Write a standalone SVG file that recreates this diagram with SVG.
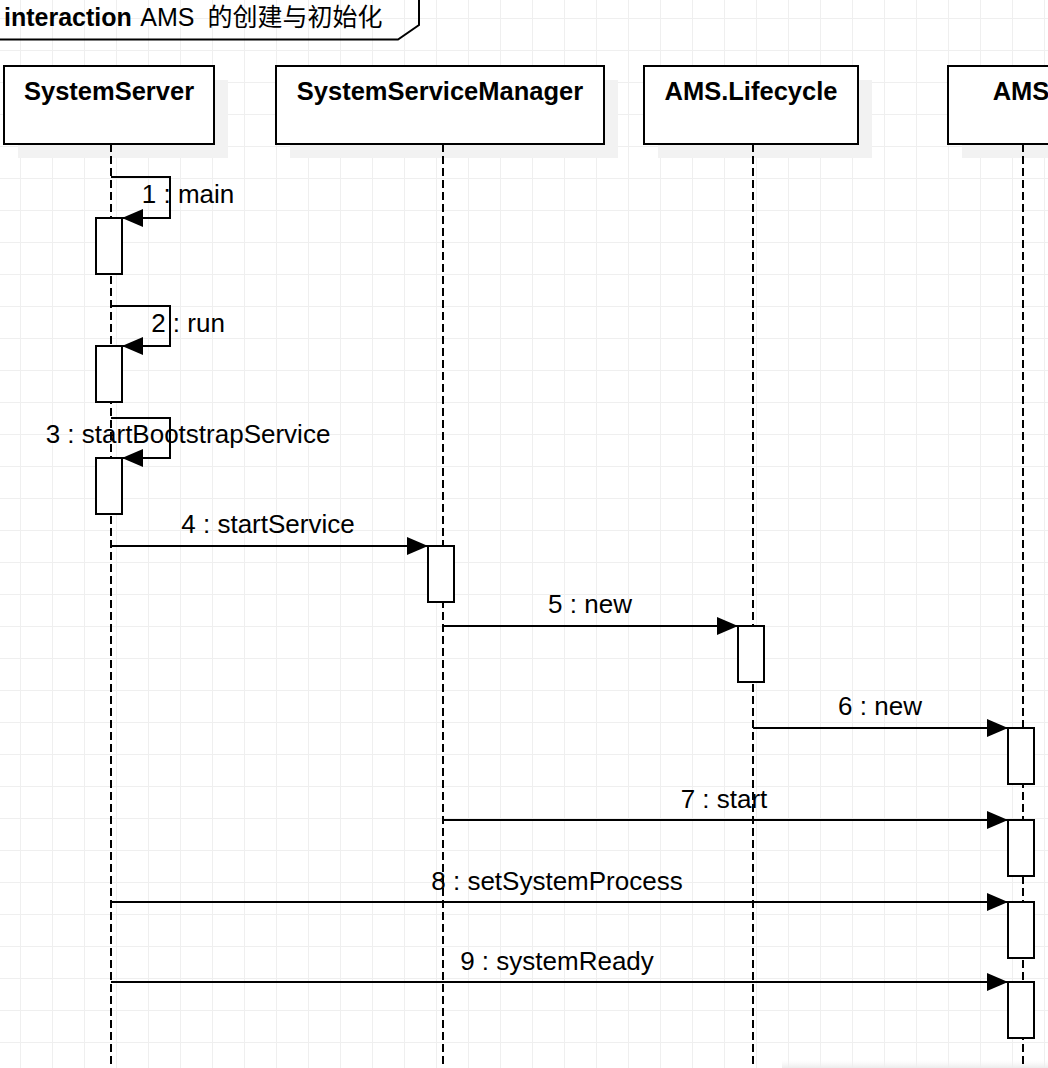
<svg xmlns="http://www.w3.org/2000/svg" width="1048" height="1068" viewBox="0 0 1048 1068">
<style>
.hdr{fill:#fff;stroke:#000;stroke-width:2}
.shadow{fill:#f2f2f2;stroke:none}
.hname{font-family:"Liberation Sans",Arial,sans-serif;font-weight:bold;font-size:25.5px;text-anchor:middle;fill:#000}
.life{stroke:#000;stroke-width:2;stroke-dasharray:8 4;fill:none}
.act{fill:#fff;stroke:#000;stroke-width:2}
.msg{stroke:#000;stroke-width:2;fill:none;marker-end:url(#arr)}
.lbl{font-family:"Liberation Sans",Arial,sans-serif;font-size:26px;text-anchor:middle;fill:#000}
.title{font-family:"Liberation Sans",Arial,"Noto Sans CJK SC",sans-serif;font-size:25px;fill:#000}
</style>
<defs>
<pattern id="grid" patternUnits="userSpaceOnUse" x="20" y="18" width="32" height="32">
<path d="M0 0.5H32M0.5 0V32" stroke="#efefef" stroke-width="1" fill="none"/>
</pattern>
<marker id="arr" markerUnits="userSpaceOnUse" markerWidth="21" markerHeight="18" refX="21" refY="9" orient="auto">
<path d="M0,0 L21,9 L0,18 z" fill="#000"/>
</marker>
<linearGradient id="bsh" x1="0" y1="0" x2="0" y2="1">
<stop offset="0" stop-color="#f6f6f6" stop-opacity="0"/>
<stop offset="1" stop-color="#ececec"/>
</linearGradient>
</defs>
<rect width="1048" height="1068" fill="#fff"/>
<rect width="1048" height="1068" fill="url(#grid)"/>
<rect x="782" y="1060" width="266" height="8" fill="url(#bsh)"/>

<g id="title">
<path d="M0,39.5 H398 L419,25 V0" fill="none" stroke="#000" stroke-width="2"/>
<text class="title" x="4" y="26"><tspan font-weight="bold">interaction</tspan><tspan dx="3"> AMS</tspan><tspan dx="6"> 的创建与初始化</tspan></text>
</g>

<g id="SystemServer">
<rect class="shadow" x="18" y="80" width="210" height="78"/>
<rect class="hdr" x="4" y="66" width="210" height="78"/>
<text class="hname" x="109" y="100">SystemServer</text>
<line class="life" x1="111" y1="144" x2="111" y2="1068"/>
</g>
<g id="SystemServiceManager">
<rect class="shadow" x="290" y="80" width="328" height="78"/>
<rect class="hdr" x="276" y="66" width="328" height="78"/>
<text class="hname" x="440" y="100">SystemServiceManager</text>
<line class="life" x1="443" y1="144" x2="443" y2="1068"/>
</g>
<g id="AMS.Lifecycle">
<rect class="shadow" x="658" y="80" width="214" height="78"/>
<rect class="hdr" x="644" y="66" width="214" height="78"/>
<text class="hname" x="751" y="100">AMS.Lifecycle</text>
<line class="life" x1="753" y1="144" x2="753" y2="1068"/>
</g>
<g id="AMS">
<rect class="shadow" x="962" y="80" width="146" height="78"/>
<rect class="hdr" x="948" y="66" width="146" height="78"/>
<text class="hname" x="1021" y="100">AMS</text>
<line class="life" x1="1023" y1="144" x2="1023" y2="1068"/>
</g>

<g id="activations">
<rect class="act" x="96" y="218" width="26" height="56"/>
<rect class="act" x="96" y="346" width="26" height="56"/>
<rect class="act" x="96" y="458" width="26" height="56"/>
<rect class="act" x="428" y="546" width="26" height="56"/>
<rect class="act" x="738" y="626" width="26" height="56"/>
<rect class="act" x="1008" y="728" width="26" height="56"/>
<rect class="act" x="1008" y="820" width="26" height="56"/>
<rect class="act" x="1008" y="902" width="26" height="56"/>
<rect class="act" x="1008" y="982" width="26" height="56"/>
</g>

<g id="connectors">
<path class="msg" d="M111,177 H170 V218 H122"/>
<path class="msg" d="M111,306 H170 V346 H122"/>
<path class="msg" d="M111,418 H170 V458 H122"/>
<line class="msg" x1="111" y1="546" x2="428" y2="546"/>
<line class="msg" x1="443" y1="626" x2="738" y2="626"/>
<line class="msg" x1="753" y1="728" x2="1008" y2="728"/>
<line class="msg" x1="443" y1="820" x2="1008" y2="820"/>
<line class="msg" x1="111" y1="902" x2="1008" y2="902"/>
<line class="msg" x1="111" y1="982" x2="1008" y2="982"/>
<text class="lbl" x="188" y="203">1 : main</text>
<text class="lbl" x="188" y="332">2 : run</text>
<text class="lbl" x="188" y="443">3 : startBootstrapService</text>
<text class="lbl" x="268" y="533">4 : startService</text>
<text class="lbl" x="590" y="613">5 : new</text>
<text class="lbl" x="880" y="715">6 : new</text>
<text class="lbl" x="724" y="808">7 : start</text>
<text class="lbl" x="557" y="890">8 : setSystemProcess</text>
<text class="lbl" x="557" y="970">9 : systemReady</text>
</g>
</svg>
